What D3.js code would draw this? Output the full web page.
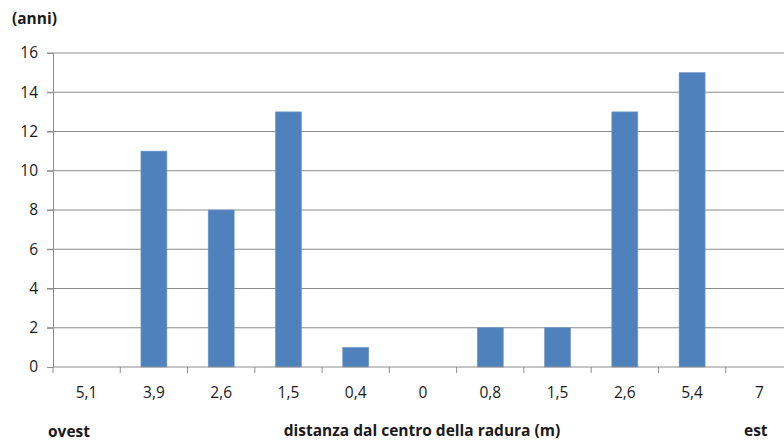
<!DOCTYPE html>
<html>
<head>
<meta charset="utf-8">
<script src="https://cdn.jsdelivr.net/npm/d3@7"></script>
<style>
  html, body { margin: 0; padding: 0; background: #fff; overflow: hidden; }
  svg { display: block; }
  text { font-family: "Open Sans", Lato, sans-serif; fill: #1a1a1a; }
</style>
</head>
<body>
<svg id="chart" width="784" height="441"></svg>
<script>
// Distance from the clearing centre (m), west to east
const distances = ["5,1", "3,9", "2,6", "1,5", "0,4", "0", "0,8", "1,5", "2,6", "5,4", "7"];
// Age in years
const ages = [0, 11, 8, 13, 1, 0, 2, 2, 13, 15, 0];
const yTicks = [0, 2, 4, 6, 8, 10, 12, 14, 16];

const svg = d3.select("#chart");
const margin = { left: 53, top: 53, right: -9, bottom: 74 };
const W = 784, H = 441;
const innerW = W - margin.left - margin.right;
const innerH = H - margin.top - margin.bottom;

const g = svg.append("g").attr("transform", `translate(${margin.left},${margin.top})`);

const x = d3.scaleBand()
  .domain(d3.range(distances.length))
  .range([0, innerW])
  .paddingInner(0.614)
  .paddingOuter(0.307);

const band = d3.scaleBand().domain(d3.range(distances.length)).range([0, innerW]);

const y = d3.scaleLinear().domain([0, 16]).range([innerH, 0]);

// Horizontal gridlines
g.append("g")
  .selectAll("line")
  .data(yTicks.filter(d => d > 0))
  .join("line")
  .attr("x1", -6).attr("x2", innerW)
  .attr("y1", d => y(d)).attr("y2", d => y(d))
  .attr("stroke", "#8c8c8c").attr("stroke-width", 1);

// Y axis
const yAxis = g.append("g")
  .call(d3.axisLeft(y).tickValues(yTicks).tickSize(6).tickPadding(9));
yAxis.select(".domain").attr("stroke", "#8c8c8c");
yAxis.selectAll(".tick line").attr("stroke", "#8c8c8c");
yAxis.selectAll(".tick text").attr("font-size", 15.5).attr("fill", "#1a1a1a")
  .style("font-family", "'Open Sans', Lato, sans-serif");

// Bars
g.append("g")
  .selectAll("rect")
  .data(ages)
  .join("rect")
  .attr("x", (d, i) => x(i))
  .attr("y", d => y(d))
  .attr("width", x.bandwidth())
  .attr("height", d => innerH - y(d))
  .attr("fill", "#4f81bd")
  .attr("stroke", "#6f96c8")
  .attr("stroke-width", 0.6);

// X axis baseline and ticks at category boundaries
g.append("line")
  .attr("x1", 0).attr("x2", innerW)
  .attr("y1", innerH).attr("y2", innerH)
  .attr("stroke", "#8c8c8c");
g.append("g")
  .selectAll("line")
  .data(d3.range(distances.length + 1))
  .join("line")
  .attr("x1", i => i * band.step()).attr("x2", i => i * band.step())
  .attr("y1", innerH).attr("y2", innerH + 6)
  .attr("stroke", "#8c8c8c");

// Category labels
g.append("g")
  .selectAll("text")
  .data(distances)
  .join("text")
  .attr("x", (d, i) => band(i) + band.bandwidth() / 2)
  .attr("y", innerH + 31)
  .attr("text-anchor", "middle")
  .attr("font-size", 15.5)
  .text(d => d);

// Titles
svg.append("text").attr("x", 12).attr("y", 24).attr("font-size", 15.5).attr("font-weight", "bold").attr("fill", "#000").text("(anni)");
svg.append("text").attr("x", 48).attr("y", 437).attr("font-size", 15.5).attr("font-weight", "bold").attr("fill", "#000").text("ovest");
svg.append("text").attr("x", 422).attr("y", 436).attr("text-anchor", "middle").attr("font-size", 15.5).attr("font-weight", "bold").attr("fill", "#000").text("distanza dal centro della radura (m)");
svg.append("text").attr("x", 744).attr("y", 436).attr("font-size", 15.5).attr("font-weight", "bold").attr("fill", "#000").text("est");
</script>
</body>
</html>
